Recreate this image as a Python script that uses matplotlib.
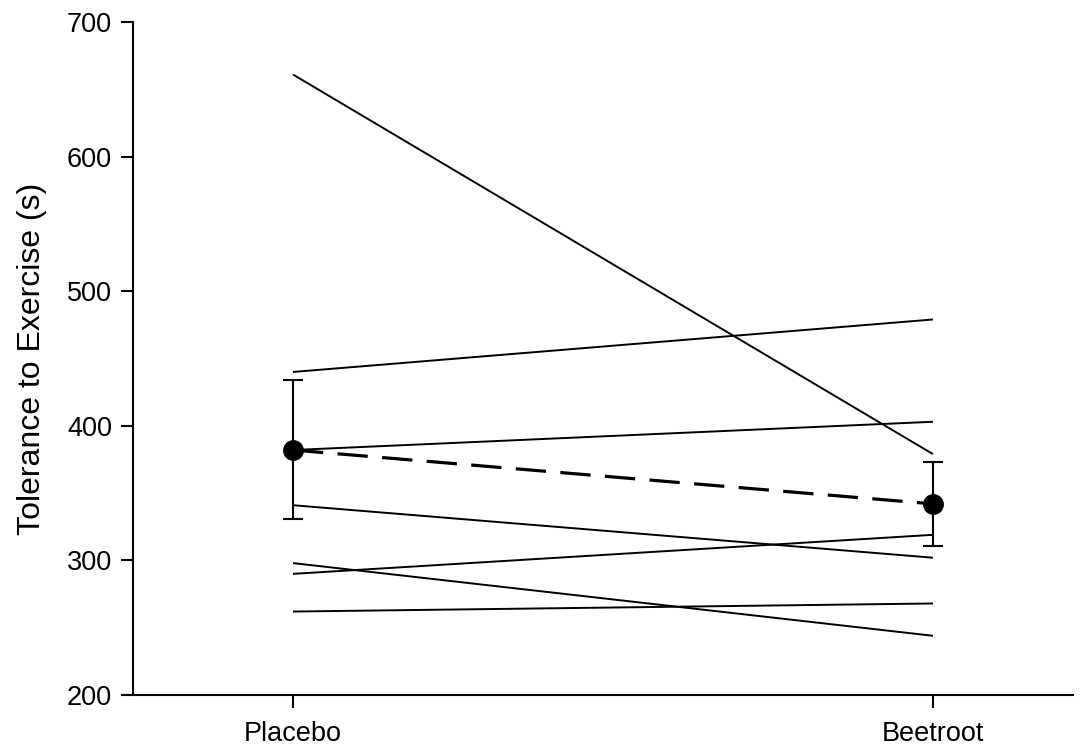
import matplotlib
matplotlib.use("Agg")
import matplotlib.pyplot as plt

plt.rcParams['font.family'] = ['Liberation Sans', 'DejaVu Sans']

conditions = ["Placebo", "Beetroot"]

# Individual participants' exercise tolerance (s)
placebo = [661, 440, 382, 341, 290, 298, 262]
beetroot = [379, 479, 403, 302, 319, 244, 268]

# Group means with error bars
mean_values = [382, 342]
err_upper = [434, 373]
err_lower = [331, 311]

y_ticks = [200, 300, 400, 500, 600, 700]

fig = plt.figure(figsize=(10.83, 7.49), dpi=100)
ax = fig.add_axes([0.1228, 0.0721, 0.868, 0.8985])

x = [0, 1]
for p, b in zip(placebo, beetroot):
    ax.plot(x, [p, b], color="black", lw=1.4, solid_capstyle="butt", zorder=2)

yerr = [[m - lo for m, lo in zip(mean_values, err_lower)],
        [hi - m for m, hi in zip(mean_values, err_upper)]]
ax.errorbar(x, mean_values, yerr=yerr, fmt="none", ecolor="black",
            elinewidth=1.5, capsize=7.5, capthick=1.5, zorder=3)
ax.plot(x, mean_values, color="black", lw=2.3, dashes=(9.5, 4.5),
        marker="o", markersize=14, zorder=4)

ax.set_xlim(-0.25, 1.219)
ax.set_ylim(200, 700)
ax.set_xticks(x)
ax.set_xticklabels(conditions)
ax.set_yticks(y_ticks)

for side in ("top", "right"):
    ax.spines[side].set_visible(False)
for side in ("left", "bottom"):
    ax.spines[side].set_linewidth(1.5)

ax.tick_params(axis="both", direction="out", length=9, width=1.5,
               labelsize=19.5, pad=6)
ax.tick_params(axis="x", pad=10)
ax.set_ylabel("Tolerance to Exercise (s)", fontsize=23, labelpad=14)

fig.savefig("out.png", dpi=100)
